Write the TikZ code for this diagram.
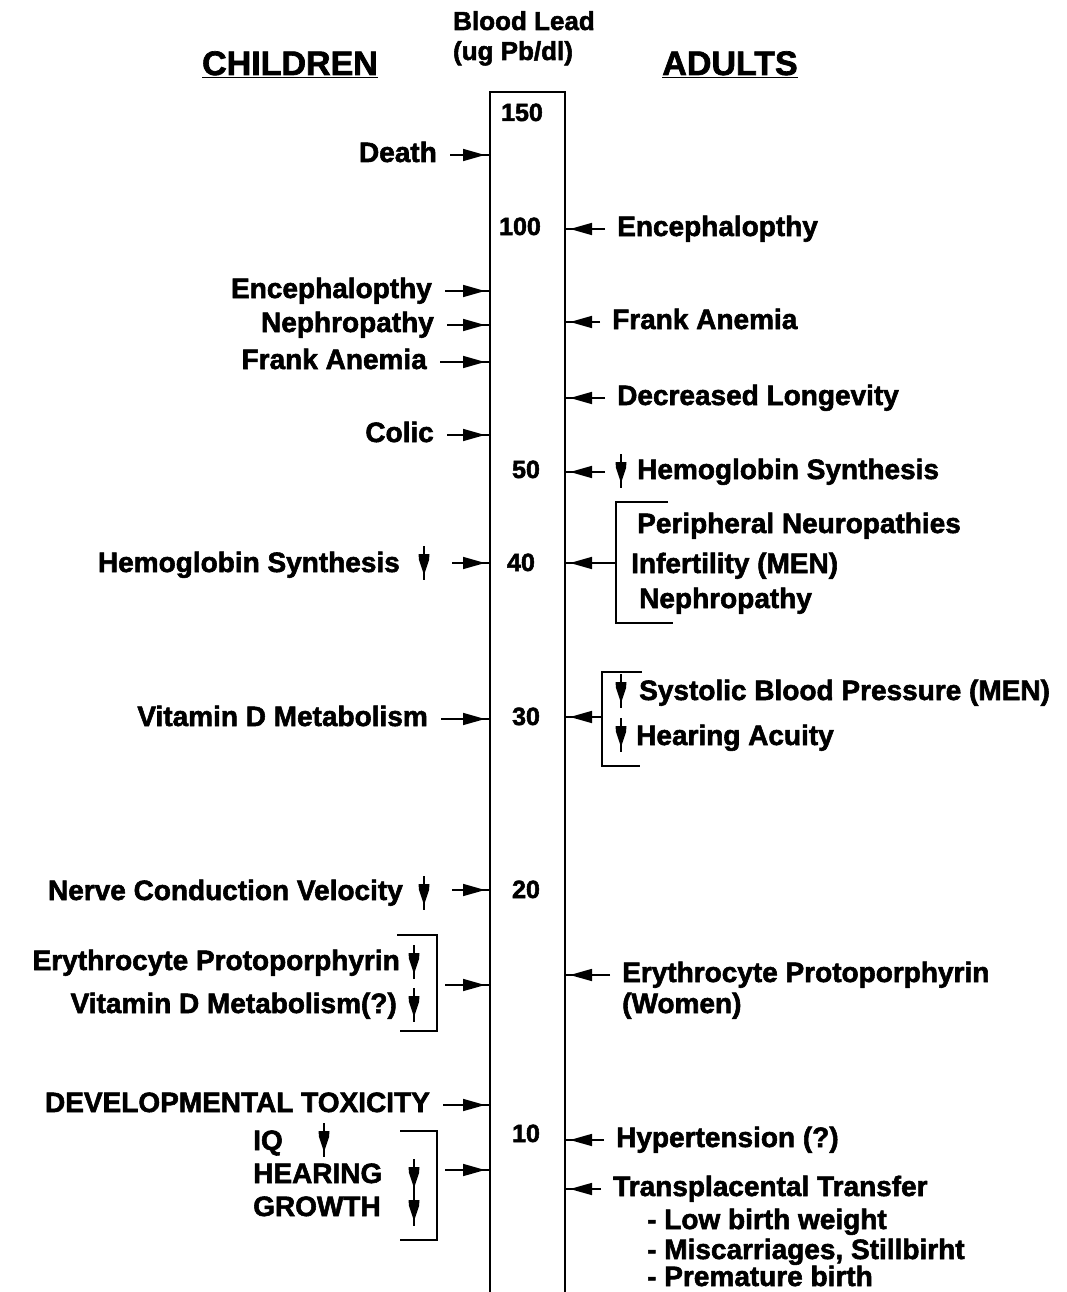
\documentclass[tikz,border=0pt]{standalone}
\usepackage{fontspec}
\setmainfont[BoldFeatures={FakeBold=2}]{Liberation Sans}
\usetikzlibrary{arrows.meta, decorations.markings}

\begin{document}
\begin{tikzpicture}[
    x=1pt, y=-1pt,
    effect/.style={inner sep=0pt, font=\fontsize{28}{30}\selectfont\bfseries},
    level/.style={inner sep=0pt, font=\fontsize{25}{28}\selectfont\bfseries},
    heading/.style={inner sep=0pt, font=\fontsize{34}{38}\selectfont\bfseries},
    pointer/.style={
        line width=1.6pt,
        postaction={decorate},
        decoration={markings,
            mark=at position -5pt with {\arrow{Triangle[length=22pt,width=12pt]}}}
    },
    bracket/.style={line width=1.3pt},
    dn/.pic={
        \draw[line width=1.5pt] (0,-17) -- (0,17);
        \fill (-5.5,-9) -- (5.5,-9) -- (5,-3) -- (0,12) -- (-5,-3) -- cycle;
    }
]
    \useasboundingbox (0,0) rectangle (1066,1292);

    % Scale bar
    \node[draw, line width=2.5pt, outer sep=0pt, inner sep=0pt,
          minimum width=75pt, minimum height=1208pt, anchor=north west]
          (bar) at (490,92) {};

    % Headings
    \node[effect, font=\fontsize{26}{28}\selectfont\bfseries, anchor=base] (blood) at (524,30) {Blood Lead};
    \node[effect, font=\fontsize{26}{28}\selectfont\bfseries, anchor=base] (unit) at (513,60) {(ug Pb/dl)};
    \node[heading, anchor=base] (children) at (290,75) {\underline{CHILDREN}};
    \node[heading, anchor=base] (adults) at (730,75) {\underline{ADULTS}};

    % Levels
    \node[level, anchor=base] (n150) at (522,121) {150};
    \node[level, anchor=base] (n100) at (520,235) {100};
    \node[level, anchor=base] (n50) at (526,478) {50};
    \node[level, anchor=base] (n40) at (521,571) {40};
    \node[level, anchor=base] (n30) at (526,725) {30};
    \node[level, anchor=base] (n20) at (526,898) {20};
    \node[level, anchor=base] (n10) at (526,1142) {10};

    % Children
    \node[effect, anchor=base east] (death) at (437,162) {Death};
    \node[effect, anchor=base east] (encL) at (432,298) {Encephalopthy};
    \node[effect, anchor=base east] (nephL) at (434,332) {Nephropathy};
    \node[effect, anchor=base east] (frankL) at (427,369) {Frank Anemia};
    \node[effect, anchor=base east] (colic) at (434,442) {Colic};
    \node[effect, anchor=base east] (hbL) at (400,572) {Hemoglobin Synthesis};
    \node[effect, anchor=base east] (vitdL) at (428,726) {Vitamin D Metabolism};
    \node[effect, anchor=base east] (ncv) at (403,900) {Nerve Conduction Velocity};
    \node[effect, anchor=base east] (epL) at (400,970) {Erythrocyte Protoporphyrin};
    \node[effect, anchor=base east] (vitdQ) at (397,1013) {Vitamin D Metabolism(?)};
    \node[effect, anchor=base east] (devtox) at (430,1112) {DEVELOPMENTAL TOXICITY};
    \node[effect, anchor=base west] (iq) at (253,1150) {IQ};
    \node[effect, anchor=base west] (hearL) at (253,1183) {HEARING};
    \node[effect, anchor=base west] (growth) at (253,1216) {GROWTH};

    % Adults
    \node[effect, anchor=base west] (encR) at (617,236) {Encephalopthy};
    \node[effect, anchor=base west] (frankR) at (612,329) {Frank Anemia};
    \node[effect, anchor=base west] (longev) at (617,405) {Decreased Longevity};
    \node[effect, anchor=base west] (hbR) at (637,479) {Hemoglobin Synthesis};
    \node[effect, anchor=base west] (periph) at (637,533) {Peripheral Neuropathies};
    \node[effect, anchor=base west] (infert) at (631,573) {Infertility (MEN)};
    \node[effect, anchor=base west] (nephR) at (639,608) {Nephropathy};
    \node[effect, anchor=base west] (systolic) at (639,700) {Systolic Blood Pressure (MEN)};
    \node[effect, anchor=base west] (hearR) at (636,745) {Hearing Acuity};
    \node[effect, anchor=base west] (epR) at (622,982) {Erythrocyte Protoporphyrin};
    \node[effect, anchor=base west] (women) at (622,1013) {(Women)};
    \node[effect, anchor=base west] (hyper) at (616,1147) {Hypertension (?)};
    \node[effect, anchor=base west] (transpl) at (613,1196) {Transplacental Transfer};
    \node[effect, anchor=base west] (lbw) at (647,1229) {- Low birth weight};
    \node[effect, anchor=base west] (misc) at (647,1259) {- Miscarriages, Stillbirht};
    \node[effect, anchor=base west] (premat) at (647,1286) {- Premature birth};

    % Decreases
    \pic (dnHbL) at (424,563) {dn};
    \pic (dnNcv) at (424,893) {dn};
    \pic (dnEpL) at (414,962) {dn};
    \pic (dnVitd) at (414,1005) {dn};
    \pic (dnIq) at (324,1140) {dn};
    \pic (dnHear) at (414,1176) {dn};
    \pic (dnGrowth) at (414,1209) {dn};
    \pic (dnHbR) at (621,471) {dn};
    \pic (dnSys) at (621,691) {dn};
    \pic (dnHearR) at (621,735) {dn};
    \coordinate (hbLarr) at (452,563);
    \coordinate (ncvArr) at (452,890);
    \coordinate (hbRarr) at (605,472);

    % Brackets
    \draw[bracket] (397,935) -| (437,1031) -- (400,1031);
    \coordinate (grpEp) at (437,985);
    \draw[bracket] (400,1131) -| (437,1240) -- (400,1240);
    \coordinate (grpDev) at (437,1170);
    \draw[bracket] (668,502) -| (616,623) -- (673,623);
    \coordinate (grpNeuro) at (616,563);
    \draw[bracket] (642,672) -| (602,766) -- (640,766);
    \coordinate (grpBp) at (602,717);

    % Connections
    \foreach \n in {death, encL, nephL, frankL, colic, vitdL, devtox} {
        \draw[pointer] (\n.base east) ++(13pt,7pt) coordinate (s) -- (s -| bar.west);
    }
    \foreach \n in {encR, frankR, longev, epR, hyper, transpl} {
        \draw[pointer] (\n.base west) ++(-12pt,7pt) coordinate (s) -- (s -| bar.east);
    }
    \foreach \n in {hbLarr, ncvArr} {
        \draw[pointer] (\n) -- (\n -| bar.west);
    }
    \draw[pointer] ([xshift=8pt]grpEp) -- (grpEp -| bar.west);
    \draw[pointer] ([xshift=8pt]grpDev) -- (grpDev -| bar.west);
    \draw[pointer] (hbRarr) -- (hbRarr -| bar.east);
    \draw[pointer] (grpNeuro) -- (grpNeuro -| bar.east);
    \draw[pointer] (grpBp) -- (grpBp -| bar.east);

\end{tikzpicture}
\end{document}
